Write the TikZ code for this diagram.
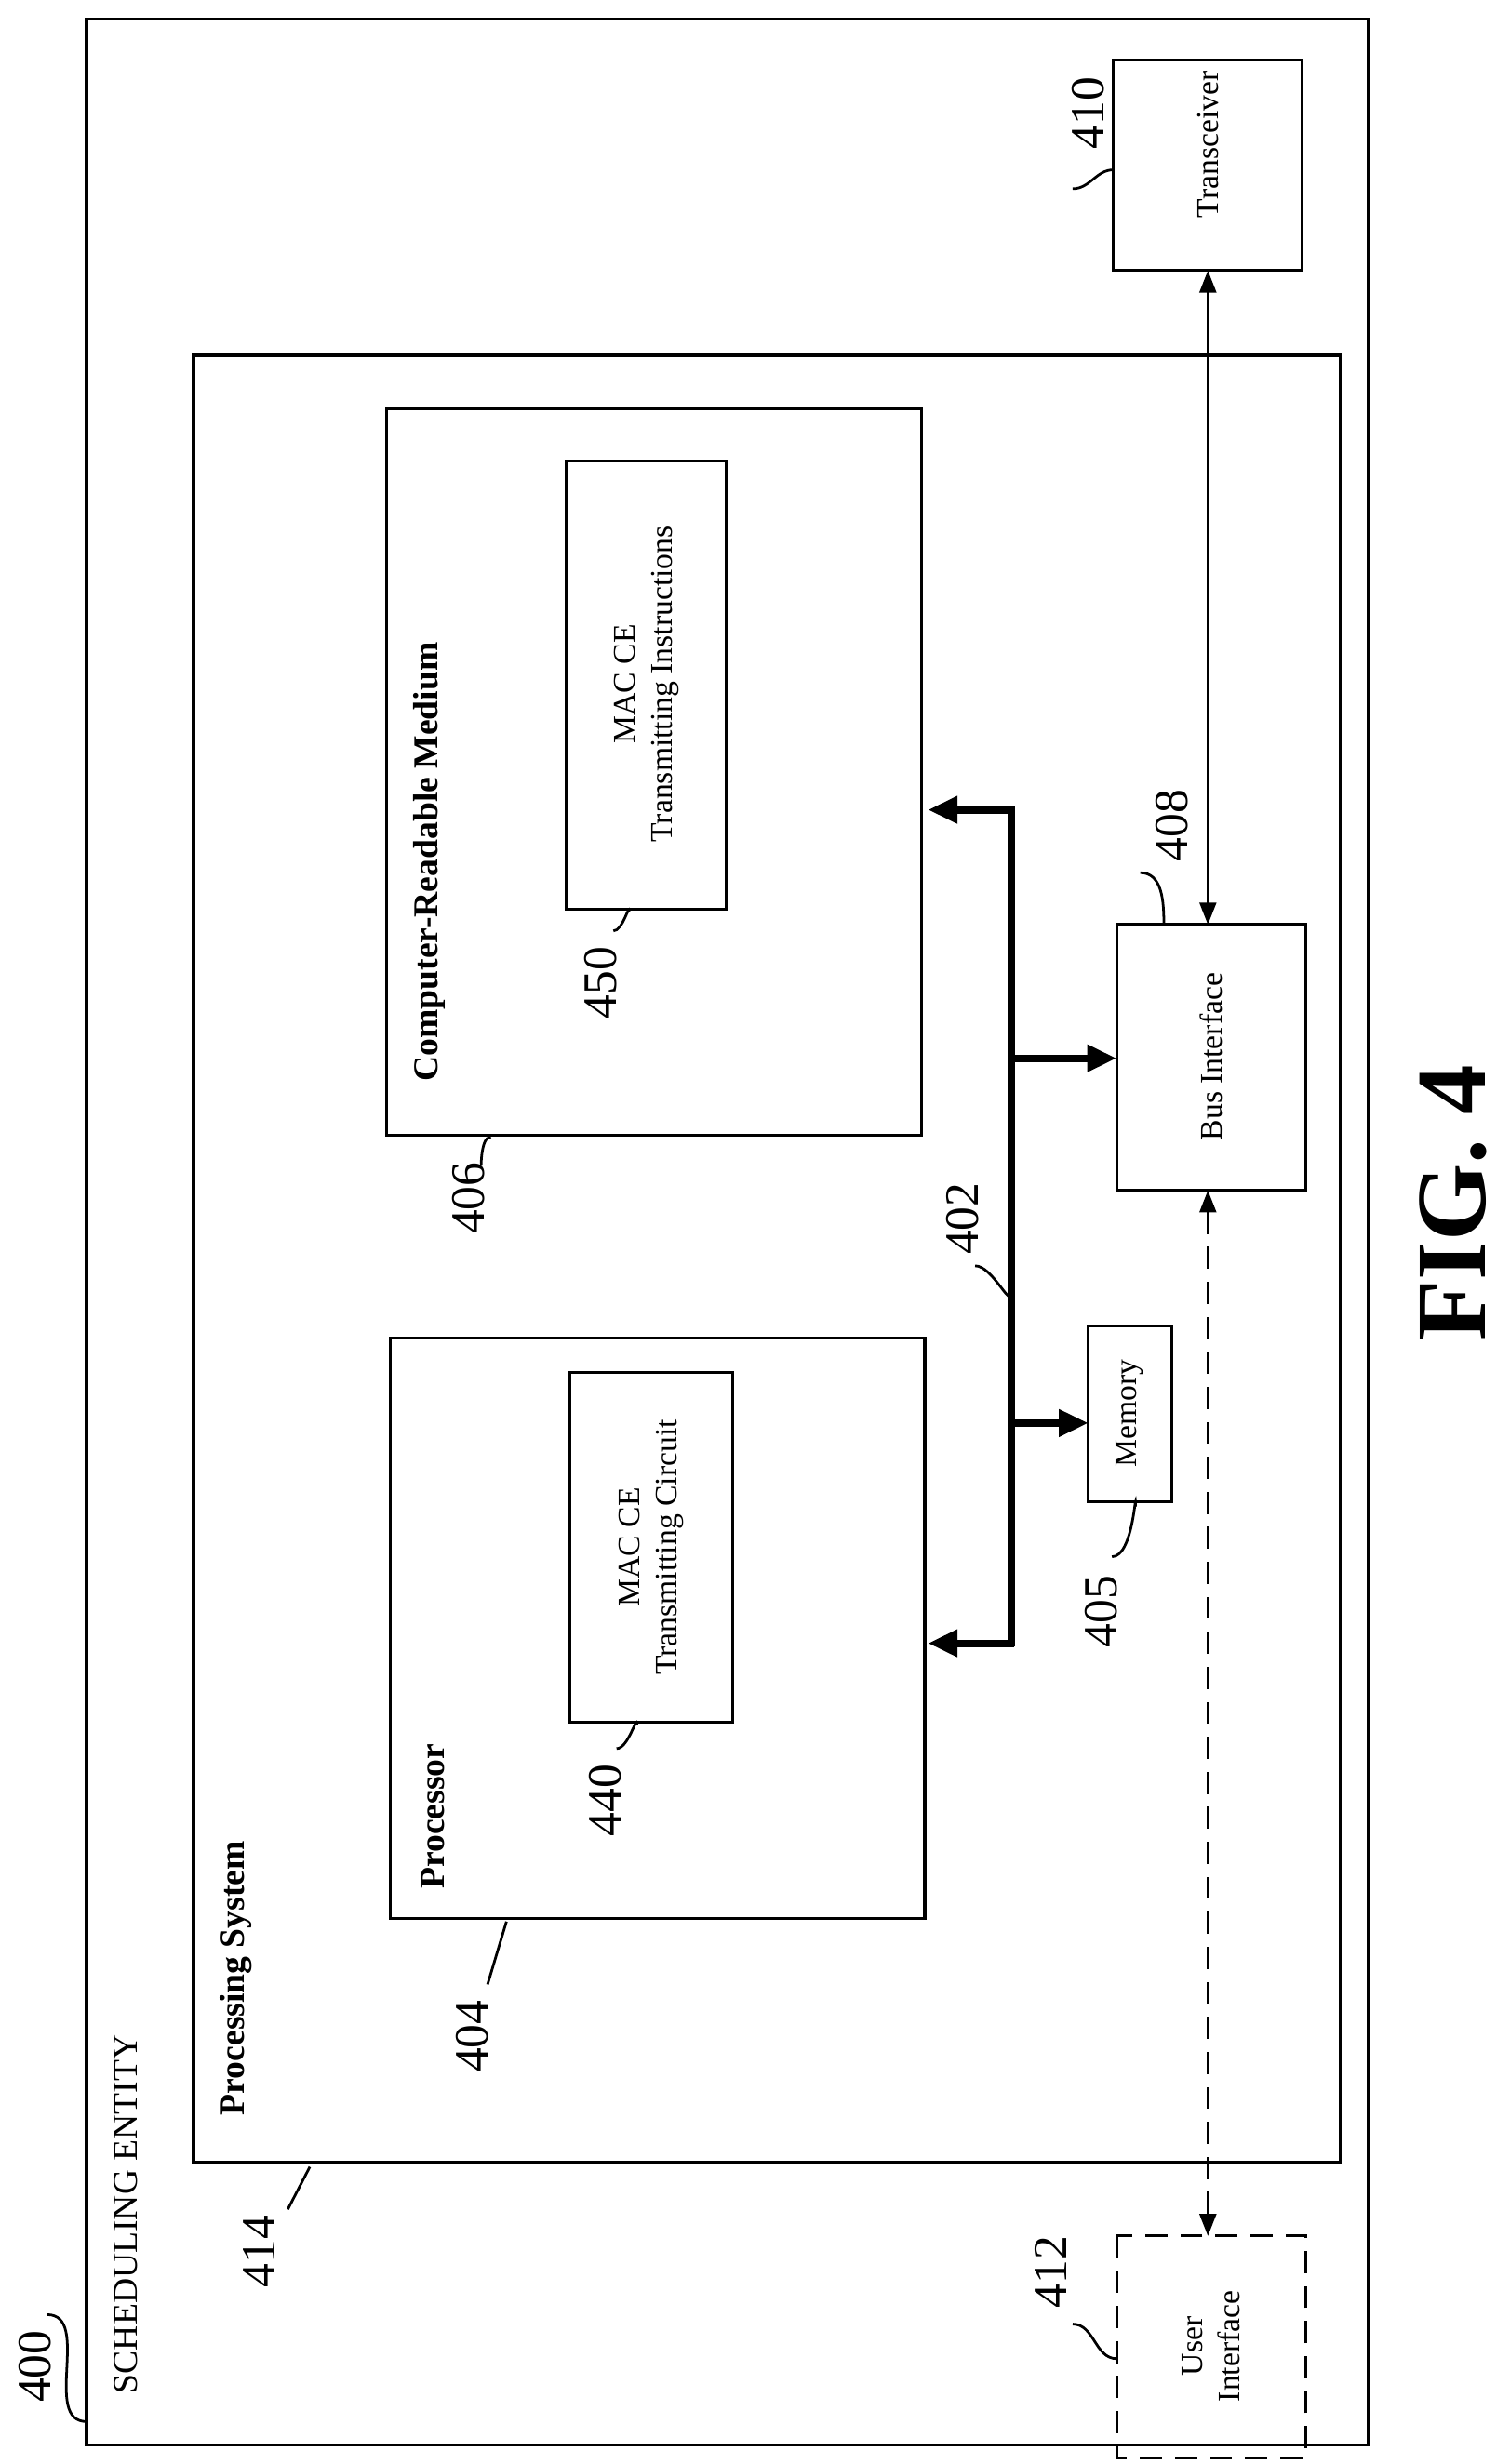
\documentclass[tikz,border=0pt]{standalone}
\usepackage{fontspec}
\setmainfont{Liberation Serif}
\usetikzlibrary{arrows.meta}
\begin{document}
\begin{tikzpicture}[x=0.03cm,y=-0.03cm,
  box/.style={draw,line width=1.6pt},
  lbl/.style={font=\fontsize{26}{30}\selectfont,rotate=90},
  txt/.style={font=\fontsize{17}{20}\selectfont,rotate=90,align=center},
  ttl/.style={font=\fontsize{19}{22}\selectfont\bfseries,rotate=90},
  lead/.style={line width=1.4pt},
  bus/.style={line width=4pt},
  arr/.style={-{Triangle[length=16pt,width=14pt]},line width=4pt},
  thin/.style={{Triangle[length=12pt,width=9pt]}-{Triangle[length=12pt,width=9pt]},line width=1.5pt}]
\useasboundingbox (0,0) rectangle (960,1567);
% outer
\draw[box] (55,12) rectangle (870,1555);
\node[lbl] (l400) at (22,1505) {400};
\draw[lead] (30,1472) to[out=0,in=180] (55,1540);
\node[font=\fontsize{19}{22}\selectfont,rotate=90] (se) at (80,1408) {SCHEDULING ENTITY};
% processing system
\draw[box] (123,226) rectangle (852,1375);
\node[ttl] (ps) at (150,1258) {Processing System};
\node[lbl] (l414) at (165,1432) {414};
\draw[lead] (183,1405) -- (197,1378);
% processor
\draw[box] (248,851) rectangle (588,1220);
\node[ttl] (proc) at (275,1155) {Processor};
\draw[box] (362,873) rectangle (466,1095);
\node[txt] (mcc) at (414,984) {MAC CE\\Transmitting Circuit};
\node[lbl] (l440) at (385,1145) {440};
\draw[lead] (392,1112) to[out=0,in=90] (405,1097);
\node[lbl] (l404) at (300,1295) {404};
\draw[lead] (310,1262) -- (322,1222);
% CRM
\draw[box] (246,260) rectangle (586,722);
\node[ttl] (crm) at (273,548) {Computer-Readable Medium};
\draw[box] (360,293) rectangle (462,578);
\node[txt] (mci) at (411,435) {MAC CE\\Transmitting Instructions};
\node[lbl] (l450) at (382,625) {450};
\draw[lead] (390,592) to[out=0,in=90] (400,580);
\node[lbl] (l406) at (298,762) {406};
\draw[lead] (306,740) to[out=-90,in=180] (312,723);
% bus
\draw[bus] (643,513) -- (643,1047);
\draw[arr] (645,515) -- (590,515);
\draw[arr] (645,1045) -- (590,1045);
\draw[arr] (641,673) -- (710,673);
\draw[arr] (641,905) -- (692,905);
\node[lbl] (l402) at (612,775) {402};
\draw[lead] (620,805) to[out=0,in=-90] (643,822);
% memory
\draw[box] (692,843) rectangle (745,955);
\node[txt] (mem) at (718,899) {Memory};
\node[lbl] (l405) at (700,1025) {405};
\draw[lead] (707,990) to[out=0,in=90] (722,958);
% bus interface
\draw[box] (710,588) rectangle (830,757);
\node[txt] (bi) at (770,672) {Bus Interface};
\node[lbl] (l408) at (745,525) {408};
\draw[lead] (725,555) to[out=0,in=90] (740,588);
% transceiver
\draw[box] (708,38) rectangle (828,172);
\node[txt] (tr) at (768,92) {Transceiver};
\node[lbl] (l410) at (692,72) {410};
\draw[lead] (682,120) to[out=0,in=180] (708,108);
\draw[thin] (768,172) -- (768,588);
\draw[thin,dashed,dash pattern=on 12pt off 7pt] (768,757) -- (768,1422);
% user interface
\draw[box,dashed,dash pattern=on 12pt off 7pt] (710,1422) rectangle (830,1563);
\node[txt] (ui) at (770,1492) {User\\Interface};
\node[lbl] (l412) at (668,1445) {412};
\draw[lead] (682,1478) to[out=0,in=180] (710,1500);
% fig
\node[rotate=90,font=\fontsize{54}{58}\selectfont\bfseries] (fig) at (924,765) {FIG. 4};
\end{tikzpicture}
\end{document}
